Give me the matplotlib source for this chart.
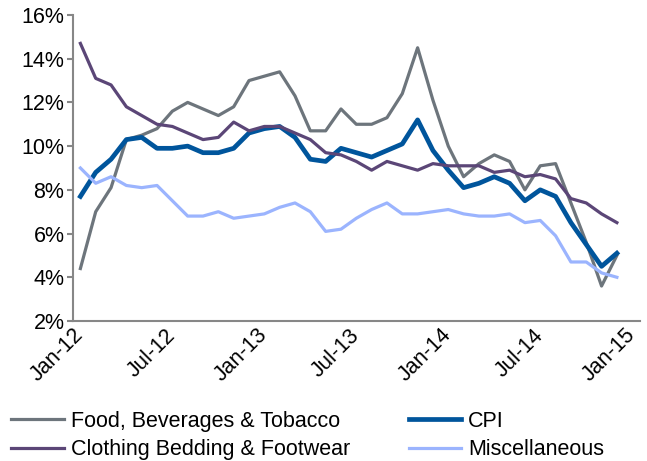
import matplotlib
matplotlib.use('Agg')
import matplotlib.pyplot as plt
import matplotlib.transforms as mtransforms
from matplotlib.ticker import FuncFormatter

plt.rcParams['font.family'] = ['Liberation Sans', 'DejaVu Sans']

# monthly y/y inflation, Jan-12 .. Dec-14
months = ['Jan-12', 'Feb-12', 'Mar-12', 'Apr-12', 'May-12', 'Jun-12',
          'Jul-12', 'Aug-12', 'Sep-12', 'Oct-12', 'Nov-12', 'Dec-12',
          'Jan-13', 'Feb-13', 'Mar-13', 'Apr-13', 'May-13', 'Jun-13',
          'Jul-13', 'Aug-13', 'Sep-13', 'Oct-13', 'Nov-13', 'Dec-13',
          'Jan-14', 'Feb-14', 'Mar-14', 'Apr-14', 'May-14', 'Jun-14',
          'Jul-14', 'Aug-14', 'Sep-14', 'Oct-14', 'Nov-14', 'Dec-14']

food = [4.4, 7.0, 8.1, 10.3, 10.5, 10.8, 11.6, 12.0, 11.7, 11.4, 11.8, 13.0,
        13.2, 13.4, 12.3, 10.7, 10.7, 11.7, 11.0, 11.0, 11.3, 12.4, 14.5, 12.1,
        10.0, 8.6, 9.2, 9.6, 9.3, 8.0, 9.1, 9.2, 7.4, 5.6, 3.6, 5.0]
cpi = [7.7, 8.8, 9.4, 10.3, 10.4, 9.9, 9.9, 10.0, 9.7, 9.7, 9.9, 10.6,
       10.8, 10.9, 10.4, 9.4, 9.3, 9.9, 9.7, 9.5, 9.8, 10.1, 11.2, 9.8,
       8.9, 8.1, 8.3, 8.6, 8.3, 7.5, 8.0, 7.7, 6.5, 5.5, 4.5, 5.1]
clothing = [14.7, 13.1, 12.8, 11.8, 11.4, 11.0, 10.9, 10.6, 10.3, 10.4, 11.1, 10.7,
            10.9, 10.9, 10.6, 10.3, 9.7, 9.6, 9.3, 8.9, 9.3, 9.1, 8.9, 9.2,
            9.1, 9.1, 9.1, 8.8, 8.9, 8.6, 8.7, 8.5, 7.6, 7.4, 6.9, 6.5]
misc = [9.0, 8.3, 8.6, 8.2, 8.1, 8.2, 7.5, 6.8, 6.8, 7.0, 6.7, 6.8,
        6.9, 7.2, 7.4, 7.0, 6.1, 6.2, 6.7, 7.1, 7.4, 6.9, 6.9, 7.0,
        7.1, 6.9, 6.8, 6.8, 6.9, 6.5, 6.6, 5.9, 4.7, 4.7, 4.2, 4.0]

tick_labels = ['Jan-12', 'Jul-12', 'Jan-13', 'Jul-13', 'Jan-14', 'Jul-14', 'Jan-15']

fig = plt.figure(figsize=(6.47, 4.61), dpi=100)
ax = fig.add_axes([0.1124, 0.3037, 0.8766, 0.6638])

x = list(range(len(months)))
l_food, = ax.plot(x, food, color='#6D757C', lw=2.3, label='Food, Beverages & Tobacco')
l_cpi, = ax.plot(x, cpi, color='#00559C', lw=3.4, label='CPI')
l_cloth, = ax.plot(x, clothing, color='#5B4677', lw=2.3, label='Clothing Bedding & Footwear')
l_misc, = ax.plot(x, misc, color='#9BB4FE', lw=2.3, label='Miscellaneous')

ax.set_ylim(2, 16)
ax.set_yticks(range(2, 17, 2))
ax.yaxis.set_major_formatter(FuncFormatter(lambda v, p: '%d%%' % v))
ax.set_xlim(-0.5, 36.5)
ax.set_xticks(range(0, 37, 6))
ax.set_xticklabels(tick_labels, rotation=45, ha='right', va='center', rotation_mode='anchor')

# nudge the slanted month labels a little left/down
shift = mtransforms.ScaledTranslation(-0.05, -0.07, fig.dpi_scale_trans)
for lab in ax.get_xticklabels():
    lab.set_transform(lab.get_transform() + shift)

for s in ['top', 'right']:
    ax.spines[s].set_visible(False)
for s in ['left', 'bottom']:
    ax.spines[s].set_color('#878787')
    ax.spines[s].set_linewidth(1.5)
ax.tick_params(axis='y', direction='out', length=4, width=1.5, color='#878787',
               labelsize=15.5, pad=2)
ax.tick_params(axis='x', length=0, labelsize=15.5, pad=8)

# column-major legend: food/clothing on the left, cpi/misc on the right
ax.legend([l_food, l_cloth, l_cpi, l_misc],
          [l_food.get_label(), l_cloth.get_label(), l_cpi.get_label(), l_misc.get_label()],
          loc='upper left', bbox_to_anchor=(0.011, 0.1185), bbox_transform=fig.transFigure,
          ncol=2, frameon=False, fontsize=15.5, handlelength=2.45, handletextpad=0.3,
          columnspacing=2.73, borderaxespad=0, borderpad=0.2, labelspacing=0.35)

fig.savefig('out.png', dpi=100)
